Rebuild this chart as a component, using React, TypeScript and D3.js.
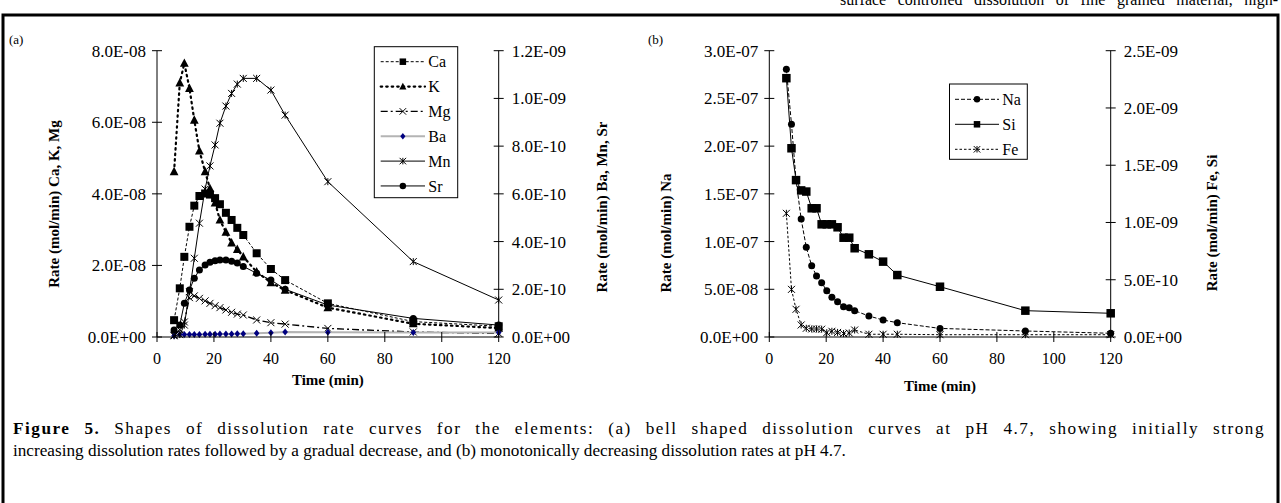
import React, { useLayoutEffect, useRef } from 'react';
import * as d3 from 'd3';

// ---------- Data (a) ----------
const timesA = [6, 8, 9.6, 11.4, 13.1, 14.9, 16.9, 18.6, 20.4, 22.1, 24.2, 26.2, 28.2, 30.3, 35, 40, 45, 60, 90, 120];
const caRate = [0.47e-8, 1.36e-8, 2.24e-8, 3.08e-8, 3.67e-8, 3.94e-8, 4.01e-8, 3.98e-8, 3.88e-8, 3.71e-8, 3.47e-8, 3.27e-8, 3.05e-8, 2.85e-8, 2.34e-8, 1.9e-8, 1.59e-8, 0.94e-8, 0.43e-8, 0.3e-8];
const kRate = [4.62e-8, 7.1e-8, 7.65e-8, 6.95e-8, 6.06e-8, 5.2e-8, 4.62e-8, 4.15e-8, 3.75e-8, 3.27e-8, 2.93e-8, 2.63e-8, 2.45e-8, 2.24e-8, 1.82e-8, 1.52e-8, 1.31e-8, 0.82e-8, 0.37e-8, 0.25e-8];
const mgRate = [0.05e-8, 0.2e-8, 0.42e-8, 1.1e-8, 1.15e-8, 1.08e-8, 1.01e-8, 0.94e-8, 0.875e-8, 0.82e-8, 0.755e-8, 0.69e-8, 0.64e-8, 0.615e-8, 0.475e-8, 0.4e-8, 0.36e-8, 0.24e-8, 0.14e-8, 0.1e-8];
const baRate = [0.5e-11, 1.0e-11, 1.1e-11, 1.1e-11, 1.1e-11, 1.1e-11, 1.2e-11, 1.2e-11, 1.2e-11, 1.3e-11, 1.3e-11, 1.3e-11, 1.4e-11, 1.4e-11, 1.6e-11, 1.8e-11, 2.1e-11, 2.0e-11, 1.9e-11, 1.9e-11];
const mnRate = [0.005e-9, 0.01e-9, 0.05e-9, 0.19e-9, 0.33e-9, 0.477e-9, 0.62e-9, 0.717e-9, 0.805e-9, 0.896e-9, 0.968e-9, 1.021e-9, 1.06e-9, 1.084e-9, 1.084e-9, 1.035e-9, 0.93e-9, 0.651e-9, 0.316e-9, 0.155e-9];
const srRate = [0.029e-9, 0.05e-9, 0.141e-9, 0.197e-9, 0.246e-9, 0.281e-9, 0.302e-9, 0.313e-9, 0.32e-9, 0.323e-9, 0.323e-9, 0.318e-9, 0.31e-9, 0.296e-9, 0.267e-9, 0.239e-9, 0.2e-9, 0.134e-9, 0.078e-9, 0.05e-9];

// ---------- Data (b) ----------
const timesB = [6, 7.8, 9.4, 11.2, 13, 14.9, 16.6, 18.4, 20.2, 22, 24, 26.1, 28.1, 30, 35, 40, 45, 60, 90, 120];
const naRate = [2.805e-7, 2.23e-7, 1.645e-7, 1.236e-7, 0.94e-7, 0.747e-7, 0.64e-7, 0.569e-7, 0.485e-7, 0.416e-7, 0.37e-7, 0.318e-7, 0.307e-7, 0.276e-7, 0.22e-7, 0.178e-7, 0.15e-7, 0.09e-7, 0.063e-7, 0.039e-7];
const siRate = [2.26e-9, 1.648e-9, 1.37e-9, 1.28e-9, 1.27e-9, 1.124e-9, 1.124e-9, 0.984e-9, 0.984e-9, 0.984e-9, 0.958e-9, 0.867e-9, 0.867e-9, 0.775e-9, 0.722e-9, 0.658e-9, 0.541e-9, 0.439e-9, 0.23e-9, 0.207e-9];
const feRate = [1.08e-9, 0.416e-9, 0.242e-9, 0.105e-9, 0.076e-9, 0.07e-9, 0.07e-9, 0.068e-9, 0.038e-9, 0.05e-9, 0.04e-9, 0.03e-9, 0.035e-9, 0.061e-9, 0.024e-9, 0.024e-9, 0.024e-9, 0.02e-9, 0.02e-9, 0.02e-9];

// ---------- Ticks ----------
const xTicks = [0, 20, 40, 60, 80, 100, 120];
const aLeftTicks = [0, 2e-8, 4e-8, 6e-8, 8e-8];
const aRightTicks = [0, 2e-10, 4e-10, 6e-10, 8e-10, 1e-9, 1.2e-9];
const bLeftTicks = [0, 5e-8, 1e-7, 1.5e-7, 2e-7, 2.5e-7, 3e-7];
const bRightTicks = [0, 5e-10, 1e-9, 1.5e-9, 2e-9, 2.5e-9];

const FONT = '"Liberation Serif", "Times New Roman", serif';

function fmtE(v: number): string {
  if (v === 0) return '0.0E+00';
  const [m, e] = v.toExponential(1).split('e');
  const n = parseInt(e, 10);
  return m + 'E' + (n < 0 ? '-' : '+') + String(Math.abs(n)).padStart(2, '0');
}

type MType = 'square' | 'triangle' | 'x' | 'diamond' | 'asterisk' | 'circle';

function Marker({ type, x, y, s, fill = '#000', stroke = '#000' }: { type: MType; x: number; y: number; s: number; fill?: string; stroke?: string }) {
  const h = s / 2;
  switch (type) {
    case 'square':
      return <rect x={x - h} y={y - h} width={s} height={s} fill={fill} />;
    case 'triangle':
      return <path d={`M${x},${y - s * 0.6}L${x + s * 0.55},${y + s * 0.45}L${x - s * 0.55},${y + s * 0.45}Z`} fill={fill} />;
    case 'circle':
      return <circle cx={x} cy={y} r={h} fill={fill} />;
    case 'diamond':
      return <path d={`M${x},${y - h}L${x + h * 0.8},${y}L${x},${y + h}L${x - h * 0.8},${y}Z`} fill={fill} />;
    case 'x':
      return <path d={`M${x - h},${y - h}L${x + h},${y + h}M${x - h},${y + h}L${x + h},${y - h}`} stroke={stroke} strokeWidth={1} fill="none" />;
    case 'asterisk':
      return <path d={`M${x - h},${y - h}L${x + h},${y + h}M${x - h},${y + h}L${x + h},${y - h}M${x},${y - h}L${x},${y + h}`} stroke={stroke} strokeWidth={1} fill="none" />;
  }
  return null;
}

interface Series {
  name: string;
  times: number[];
  values: number[];
  axis: 'L' | 'R';
  marker: MType;
  ms: number;
  color: string;
  mcolor: string;
  width: number;
  dash?: string;
}

const seriesA: Series[] = [
  { name: 'Ca', times: timesA, values: caRate, axis: 'L', marker: 'square', ms: 8, color: '#000', mcolor: '#000', width: 1, dash: '3,2' },
  { name: 'K', times: timesA, values: kRate, axis: 'L', marker: 'triangle', ms: 8, color: '#000', mcolor: '#000', width: 2.2, dash: '1.5,4' },
  { name: 'Mg', times: timesA, values: mgRate, axis: 'L', marker: 'x', ms: 7, color: '#000', mcolor: '#000', width: 1.4, dash: '7,3,2,3' },
  { name: 'Ba', times: timesA, values: baRate, axis: 'R', marker: 'diamond', ms: 7, color: '#b4b4b4', mcolor: '#000080', width: 2 },
  { name: 'Mn', times: timesA, values: mnRate, axis: 'R', marker: 'asterisk', ms: 7, color: '#000', mcolor: '#000', width: 1 },
  { name: 'Sr', times: timesA, values: srRate, axis: 'R', marker: 'circle', ms: 7, color: '#000', mcolor: '#000', width: 1 },
];

const seriesB: Series[] = [
  { name: 'Na', times: timesB, values: naRate, axis: 'L', marker: 'circle', ms: 7, color: '#000', mcolor: '#000', width: 1, dash: '4,2' },
  { name: 'Si', times: timesB, values: siRate, axis: 'R', marker: 'square', ms: 8.5, color: '#000', mcolor: '#000', width: 1 },
  { name: 'Fe', times: timesB, values: feRate, axis: 'R', marker: 'asterisk', ms: 7, color: '#000', mcolor: '#000', width: 1, dash: '2.5,2' },
];

function JustText({ x, y, width, size, letterShare = 0, children }: { x: number; y: number; width: number; size: number; letterShare?: number; children: React.ReactNode }) {
  const ref = useRef<SVGTextElement>(null);
  useLayoutEffect(() => {
    const el = ref.current;
    if (!el) return;
    el.setAttribute('word-spacing', '0');
    el.setAttribute('letter-spacing', '0');
    const w = el.getComputedTextLength();
    const txt = el.textContent || '';
    const spaces = txt.split(' ').length - 1;
    const chars = txt.length;
    const extra = width - w;
    if (extra > 0 && spaces > 0) {
      const ls = (extra * letterShare) / chars;
      const ws = (extra * (1 - letterShare)) / spaces;
      el.setAttribute('letter-spacing', String(ls));
      el.setAttribute('word-spacing', String(ws));
    }
  }, [width, letterShare]);
  return (
    <text ref={ref} x={x} y={y} fontSize={size} fontFamily={FONT} fill="#000">
      {children}
    </text>
  );
}

interface PanelProps {
  x0: number; x1: number; y0: number; y1: number;
  leftMax: number; rightMax: number;
  leftTicks: number[]; rightTicks: number[];
  series: Series[];
  leftTitle: string; rightTitle: string;
  leftTitlePos: [number, number]; rightTitlePos: [number, number];
  timeY: number;
  legend: { x: number; y: number; w: number; h: number; firstY: number; step: number; lx0: number; lx1: number; tx: number; ms: number };
  tag: string; tagX: number;
}

function Panel(p: PanelProps) {
  const x = d3.scaleLinear().domain([0, 120]).range([p.x0, p.x1]);
  const yL = d3.scaleLinear().domain([0, p.leftMax]).range([p.y1, p.y0]);
  const yR = d3.scaleLinear().domain([0, p.rightMax]).range([p.y1, p.y0]);
  return (
    <g fontFamily={FONT}>
      <text x={p.tagX} y={44} fontSize={13}>{p.tag}</text>
      {p.series.map((s) => {
        const ys = s.axis === 'L' ? yL : yR;
        const pts: [number, number][] = s.times.map((t, i) => [t, s.values[i]]);
        const line = d3.line<[number, number]>().x((d) => x(d[0])).y((d) => ys(d[1]));
        return (
          <g key={s.name}>
            <path d={line(pts) || ''} fill="none" stroke={s.color} strokeWidth={s.width} strokeDasharray={s.dash} strokeLinecap={s.name === 'K' ? 'round' : 'butt'} />
            {pts.map((d, i) => (
              <Marker key={i} type={s.marker} x={x(d[0])} y={ys(d[1])} s={s.ms} fill={s.mcolor} stroke={s.mcolor} />
            ))}
          </g>
        );
      })}
      <line x1={p.x0} x2={p.x1} y1={p.y1} y2={p.y1} stroke="#000" strokeWidth={1} />
      <line x1={p.x0} x2={p.x0} y1={p.y0} y2={p.y1} stroke="#000" strokeWidth={1} />
      <line x1={p.x1} x2={p.x1} y1={p.y0} y2={p.y1} stroke="#000" strokeWidth={1} />
      {xTicks.map((t) => (
        <g key={'x' + t}>
          <line x1={x(t)} x2={x(t)} y1={p.y1 - 5} y2={p.y1 + 5} stroke="#000" />
          <text x={x(t)} y={p.y1 + 27} fontSize={16} textAnchor="middle">{t}</text>
        </g>
      ))}
      {p.leftTicks.map((t) => (
        <g key={'l' + t}>
          <line x1={p.x0 - 5} x2={p.x0 + 5} y1={yL(t)} y2={yL(t)} stroke="#000" />
          <text x={p.x0 - 11} y={yL(t)} dy="0.35em" fontSize={17} textAnchor="end">{fmtE(t)}</text>
        </g>
      ))}
      {p.rightTicks.map((t) => (
        <g key={'r' + t}>
          <line x1={p.x1 - 5} x2={p.x1 + 5} y1={yR(t)} y2={yR(t)} stroke="#000" />
          <text x={p.x1 + 13} y={yR(t)} dy="0.35em" fontSize={17} textAnchor="start">{fmtE(t)}</text>
        </g>
      ))}
      <text x={(p.x0 + p.x1) / 2} y={p.timeY} fontSize={15} fontWeight="bold" textAnchor="middle">Time (min)</text>
      <text transform={`translate(${p.leftTitlePos[0]},${p.leftTitlePos[1]}) rotate(-90)`} fontSize={15} fontWeight="bold" textAnchor="middle">{p.leftTitle}</text>
      <text transform={`translate(${p.rightTitlePos[0]},${p.rightTitlePos[1]}) rotate(-90)`} fontSize={15} fontWeight="bold" textAnchor="middle">{p.rightTitle}</text>
      <rect x={p.legend.x} y={p.legend.y} width={p.legend.w} height={p.legend.h} fill="#fff" stroke="#000" strokeWidth={1} />
      {p.series.map((s, i) => {
        const ly = p.legend.firstY + i * p.legend.step;
        const mx = (p.legend.lx0 + p.legend.lx1) / 2;
        return (
          <g key={'lg' + s.name}>
            <line x1={p.legend.lx0} x2={p.legend.lx1} y1={ly} y2={ly} stroke={s.color} strokeWidth={s.width} strokeDasharray={s.dash} strokeLinecap={s.name === 'K' ? 'round' : 'butt'} />
            <Marker type={s.marker} x={mx} y={ly} s={p.legend.ms} fill={s.mcolor} stroke={s.mcolor} />
            <text x={p.legend.tx} y={ly} dy="0.35em" fontSize={16}>{s.name}</text>
          </g>
        );
      })}
    </g>
  );
}

export default function App() {
  return (
    <svg width={1281} height={503} style={{ position: 'absolute', left: 0, top: 0, background: '#fff' }} fontFamily={FONT}>
      <rect x={0} y={0} width={1281} height={503} fill="#fff" />
      <JustText x={840} y={5} width={438} size={16}>surface controlled dissolution of fine grained material, high-</JustText>
      <path d="M3,520V15H1278V520" fill="none" stroke="#000" strokeWidth={3} />
      <Panel
        x0={157} x1={498.7} y0={50.7} y1={337}
        leftMax={8e-8} rightMax={1.2e-9}
        leftTicks={aLeftTicks} rightTicks={aRightTicks}
        series={seriesA}
        leftTitle="Rate (mol/min) Ca, K, Mg" rightTitle="Rate (mol/min) Ba, Mn, Sr"
        leftTitlePos={[59, 204]} rightTitlePos={[607, 207]}
        timeY={385}
        legend={{ x: 374.3, y: 46.7, w: 83.4, h: 151, firstY: 61.7, step: 24.85, lx0: 380.7, lx1: 425, tx: 428.3, ms: 6.5 }}
        tag="(a)" tagX={9}
      />
      <Panel
        x0={769.3} x1={1110.7} y0={50.7} y1={337}
        leftMax={3e-7} rightMax={2.5e-9}
        leftTicks={bLeftTicks} rightTicks={bRightTicks}
        series={seriesB}
        leftTitle="Rate (mol/min) Na" rightTitle="Rate (mol/min) Fe, Si"
        leftTitlePos={[671, 233]} rightTitlePos={[1217, 223]}
        timeY={391}
        legend={{ x: 949.5, y: 84, w: 77.8, h: 75.3, firstY: 99.3, step: 25, lx0: 955, lx1: 999, tx: 1002.3, ms: 6.5 }}
        tag="(b)" tagX={648}
      />
      <JustText x={13} y={434} width={1252} size={17.2} letterShare={0.55}>
        <tspan fontWeight="bold">Figure 5.</tspan> Shapes of dissolution rate curves for the elements: (a) bell shaped dissolution curves at pH 4.7, showing initially strong
      </JustText>
      <text x={13} y={456} fontSize={17.2} fontFamily={FONT}>increasing dissolution rates followed by a gradual decrease, and (b) monotonically decreasing dissolution rates at pH 4.7.</text>
    </svg>
  );
}
